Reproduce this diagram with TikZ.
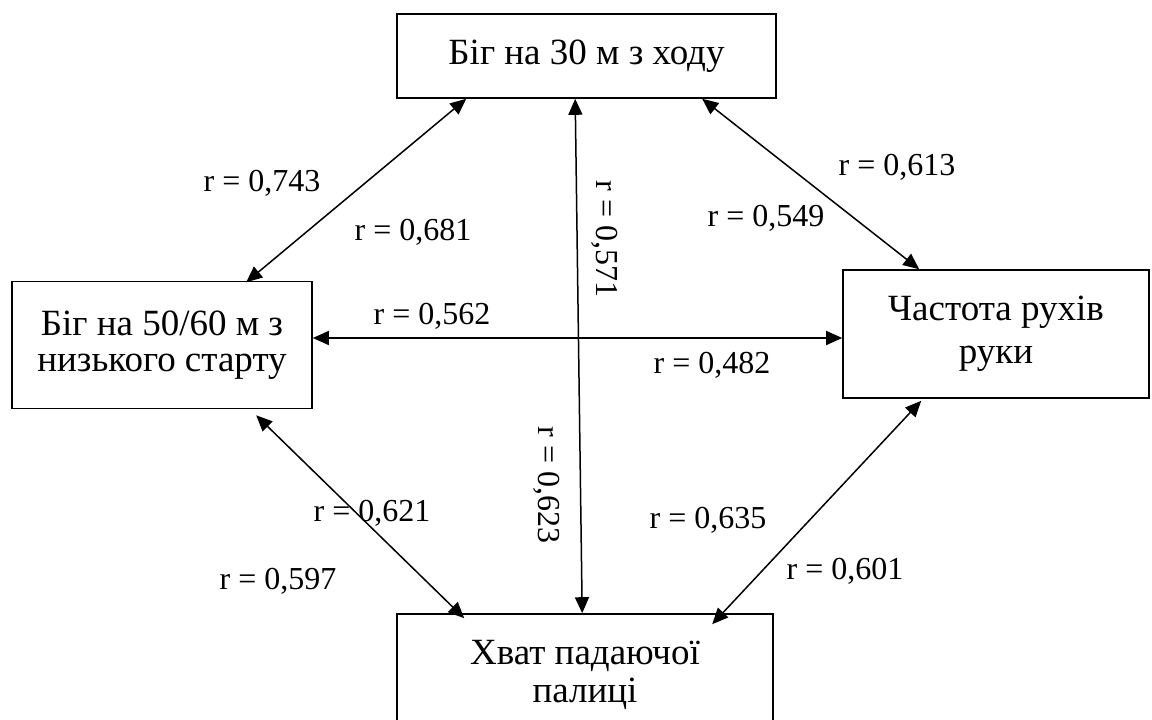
\documentclass[tikz,border=0pt]{standalone}
\usepackage{fontspec}
\setmainfont{Liberation Serif}
\usetikzlibrary{arrows.meta}
\begin{document}
\begin{tikzpicture}[x=1pt,y=-1pt,
  box/.style={draw,line width=1.6pt,inner sep=0pt,align=center,
    font=\fontsize{37}{37}\selectfont},
  link/.style={line width=1.5pt,{Triangle[length=16pt,width=14pt]}-{Triangle[length=16pt,width=14pt]}},
  lab/.style={font=\fontsize{32}{37}\selectfont,inner sep=0pt}]
\useasboundingbox (0,0) rectangle (1152,720);
\fill[white] (0,0) rectangle (1152,720);
\node[box,minimum width=379pt,minimum height=84pt] (top) at (586.5,56) {Біг на 30 м з ходу};
\node[box,minimum width=300pt,minimum height=127pt,font=\fontsize{37}{36.5}\selectfont] (left) at (162,345) {Біг на 50/60 м з\\низького старту};
\node[box,minimum width=306pt,minimum height=128pt,font=\fontsize{37}{43}\selectfont] (right) at (996,334) {Частота рухів\\руки};
\node[box,minimum width=376pt,minimum height=122pt,font=\fontsize{37}{38}\selectfont] (bottom) at (585,675) {Хват падаючої\\палиці};
% connectors
\draw[link] ([xshift=70pt]top.south west) -- ([xshift=235pt,yshift=-1.5pt]left.north west);
\draw[link] ([xshift=306pt]top.south west) -- ([xshift=77pt]right.north west);
\draw[link] ([xshift=179pt]top.south west) -- ([xshift=186pt]bottom.north west);
\draw[link] (left.east |- 0,338) -- (right.west |- 0,338);
\draw[link] ([xshift=245pt,yshift=-6pt]left.south west) -- ([xshift=68pt,yshift=-5pt]bottom.north west);
\draw[link] ([xshift=79pt,yshift=-2pt]right.south west) -- ([xshift=316pt,yshift=-11pt]bottom.north west);
% labels
\node[lab] (l743) at (262,183) {r = 0,743};
\node[lab] (l681) at (413,232) {r = 0,681};
\node[lab] (l613) at (897,167) {r = 0,613};
\node[lab] (l549) at (766,218) {r = 0,549};
\node[lab,rotate=-90] (l571) at (605,239) {r = 0,571};
\node[lab,rotate=-90] (l623) at (547,485) {r = 0,623};
\node[lab] (l562) at (432,316) {r = 0,562};
\node[lab] (l482) at (712,365) {r = 0,482};
\node[lab] (l621) at (372,513) {r = 0,621};
\node[lab] (l597) at (278,581) {r = 0,597};
\node[lab] (l635) at (708,520) {r = 0,635};
\node[lab] (l601) at (845,571) {r = 0,601};
\end{tikzpicture}
\end{document}
